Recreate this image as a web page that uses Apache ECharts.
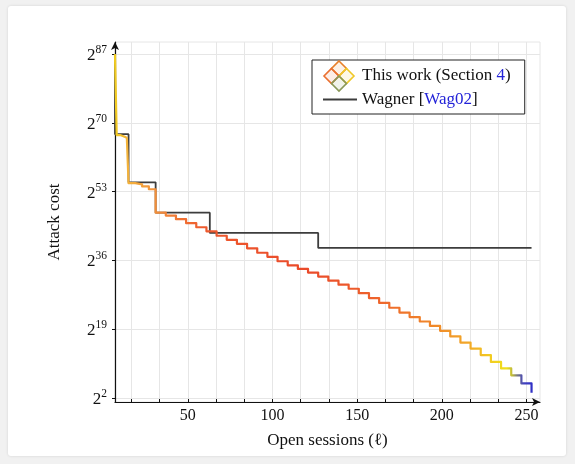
<!DOCTYPE html>
<html>
<head>
<meta charset="utf-8">
<script src="https://cdn.jsdelivr.net/npm/echarts@6/dist/echarts.min.js"></script>
<style>
  html, body { margin: 0; padding: 0; background: #f1f1f1; }
  .card { position: absolute; left: 8px; top: 6px; width: 558px; height: 450px; background: #fff; border-radius: 3px; box-shadow: 0 0 3px rgba(0,0,0,0.12); }
  #main { position: absolute; left: 0; top: 0; width: 575px; height: 464px; }
</style>
</head>
<body>
<div class="card"></div>
<div id="main"></div>
<script>
// open sessions (x) and attack cost exponent log2 (y)
const workX = [7, 8, 10, 12, 14, 15, 19, 23, 27, 31, 37, 43, 49, 55, 61, 67, 73, 79, 85, 91, 97, 103, 109, 115, 121, 127, 133, 139, 145, 151, 157, 163, 169, 175, 181, 187, 193, 199, 205, 211, 217, 223, 229, 235, 241, 247, 253];
const workY = [87, 67.0, 66.7, 66.3, 65.9, 55.1, 54.8, 54.3, 53.6, 47.8, 47.1, 46.2, 45.2, 44.2, 43.2, 42.1, 41.1, 40.1, 39.0, 37.9, 36.9, 35.8, 34.8, 33.9, 33.0, 32.0, 31.0, 30.0, 29.0, 27.9, 26.7, 25.5, 24.3, 23.1, 22.0, 20.9, 19.8, 18.6, 17.2, 15.7, 14.2, 12.6, 10.9, 9.3, 7.6, 5.6, 3.3];

const wagnerX = [7, 7, 15, 31, 63, 127, 253];
const wagnerY = [87, 67.2, 55.3, 47.8, 42.8, 39.1, 39.1];

const xLabels = [50, 100, 150, 200, 250];
const xTicks = [16.667, 33.333, 50, 66.667, 83.333, 100, 116.667, 133.333, 150, 166.667, 183.333, 200, 216.667, 233.333, 250];
const yTicks = [2, 19, 36, 53, 70, 87];

const serif = '"Liberation Serif", "DejaVu Serif", serif';

const chart = echarts.init(document.getElementById('main'));

const toPairs = (xs, ys) => xs.map((x, i) => [x, ys[i]]);

const workColor = new echarts.graphic.LinearGradient(0, 0, 1, 0, [
  { offset: 0, color: '#f2d21a' },
  { offset: 0.035, color: '#f3b23a' },
  { offset: 0.1, color: '#f2903a' },
  { offset: 0.215, color: '#ee5a2e' },
  { offset: 0.46, color: '#ea4a2a' },
  { offset: 0.62, color: '#ee622c' },
  { offset: 0.76, color: '#f0882a' },
  { offset: 0.845, color: '#f2a828' },
  { offset: 0.9, color: '#f2cd20' },
  { offset: 0.935, color: '#efe01a' },
  { offset: 0.95, color: '#b8b440' },
  { offset: 0.96, color: '#7a7a80' },
  { offset: 0.975, color: '#4444bc' },
  { offset: 1, color: '#2a2ac8' }
]);

const option = {
  animation: false,
  grid: { left: 115, right: 35, top: 42, bottom: 62, show: true, borderColor: '#e6e6e6', borderWidth: 1 },
  legend: {
    left: 312,
    top: 60,
    orient: 'vertical',
    itemWidth: 34,
    itemHeight: 14,
    itemGap: 7,
    padding: [7, 14, 6, 10],
    borderColor: '#222',
    borderWidth: 1,
    borderRadius: 0,
    backgroundColor: '#fff',
    data: [
      { name: 'This work', icon: 'rect', itemStyle: { opacity: 0 }, lineStyle: { opacity: 0 } },
      { name: 'Wagner', itemStyle: { opacity: 0 } }
    ],
    formatter: name => name === 'Wagner'
      ? '{t|Wagner [}{b|Wag02}{t|]}'
      : '{t|This work (Section }{b|4}{t|)}',
    textStyle: {
      rich: {
        t: { fontFamily: serif, fontSize: 17, color: '#111' },
        b: { fontFamily: serif, fontSize: 17, color: '#2323d8' }
      }
    }
  },
  xAxis: {
    type: 'value',
    min: 7,
    max: 258,
    name: 'Open sessions (ℓ)',
    nameLocation: 'middle',
    nameGap: 30,
    nameTextStyle: { fontFamily: serif, fontSize: 17, color: '#111' },
    axisLine: { show: true, lineStyle: { color: '#111', width: 1.2 }, symbol: ['none', 'arrow'], symbolSize: [6, 8], onZero: false },
    axisTick: { show: true, inside: true, length: 3, customValues: xTicks, lineStyle: { color: '#111' } },
    axisLabel: { customValues: xLabels, fontFamily: serif, fontSize: 16, color: '#111', margin: 6 },
    splitLine: { show: true, lineStyle: { color: '#e6e6e6', width: 1 } }
  },
  yAxis: {
    type: 'value',
    min: 1,
    max: 90,
    name: 'Attack cost',
    nameLocation: 'middle',
    nameGap: 52,
    nameRotate: 90,
    nameTextStyle: { fontFamily: serif, fontSize: 17, color: '#111' },
    axisLine: { show: true, lineStyle: { color: '#111', width: 1.2 }, symbol: ['none', 'arrow'], symbolSize: [6, 8], onZero: false },
    axisTick: { show: true, length: 3, customValues: yTicks, lineStyle: { color: '#111' } },
    axisLabel: {
      customValues: yTicks,
      margin: 8,
      formatter: v => '{b|2}{s|' + v + '}',
      rich: {
        b: { fontFamily: serif, fontSize: 17, color: '#111', lineHeight: 20, verticalAlign: 'bottom' },
        s: { fontFamily: serif, fontSize: 11.5, color: '#111', lineHeight: 12, verticalAlign: 'top' }
      }
    },
    splitLine: { show: true, lineStyle: { color: '#e6e6e6', width: 1 } }
  },
  series: [
    {
      name: 'This work',
      type: 'line',
      step: 'end',
      symbol: 'none',
      data: toPairs(workX, workY),
      lineStyle: { color: workColor, width: 2.2, join: 'round' },
      itemStyle: { color: '#ee5a2e' },
      z: 3
    },
    {
      name: 'Wagner',
      type: 'line',
      step: 'end',
      symbol: 'none',
      data: toPairs(wagnerX, wagnerY),
      lineStyle: { color: '#3d3d3d', width: 1.8 },
      itemStyle: { color: '#3d3d3d' },
      z: 2
    }
  ],
  graphic: {
    elements: [
      { type: 'polygon', z: 100, shape: { points: [[339, 61], [346.5, 68.5], [339, 76], [331.5, 68.5]] }, style: { fill: 'rgba(240,150,60,0.12)', stroke: '#e8802a', lineWidth: 1.6 } },
      { type: 'polygon', z: 100, shape: { points: [[331.5, 68.5], [339, 76], [331.5, 83.5], [324, 76]] }, style: { fill: 'rgba(236,110,50,0.12)', stroke: '#ea7030', lineWidth: 1.6 } },
      { type: 'polygon', z: 100, shape: { points: [[346.5, 68.5], [354, 76], [346.5, 83.5], [339, 76]] }, style: { fill: 'rgba(242,200,50,0.12)', stroke: '#f0c828', lineWidth: 1.6 } },
      { type: 'polygon', z: 100, shape: { points: [[339, 76], [346.5, 83.5], [339, 91], [331.5, 83.5]] }, style: { fill: 'rgba(140,154,90,0.12)', stroke: '#8a9858', lineWidth: 1.6 } }
    ]
  }
};

chart.setOption(option);
</script>
</body>
</html>
